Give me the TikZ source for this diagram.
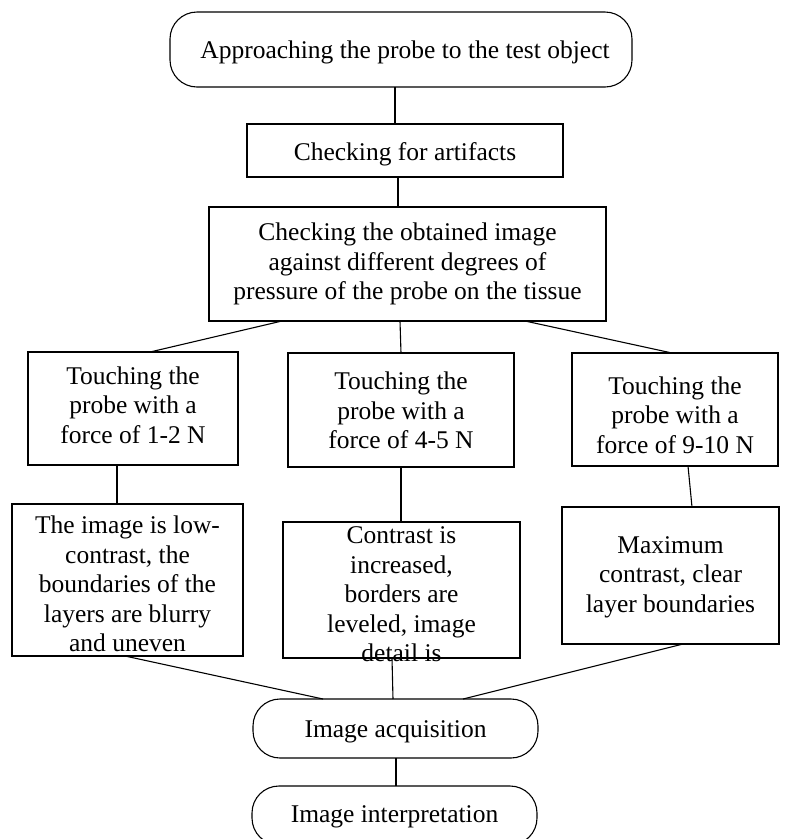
\documentclass[tikz,border=0pt]{standalone}
\usepackage{fontspec}
\setmainfont{Liberation Serif}
\begin{document}
\begin{tikzpicture}[x=1pt,y=-1pt,
  frame/.style={draw, line width=1.1pt, inner sep=0pt, outer sep=0pt},
  sq/.style={frame, rectangle},
  rnd/.style={frame, rectangle, rounded corners=27pt},
  txt/.style={align=center, inner sep=0pt, font=\fontsize{25.5}{29.5}\selectfont},
  link/.style={line width=1.1pt}]
\useasboundingbox (0,0) rectangle (786,839);
% boxes
\node[rnd, minimum width=462pt, minimum height=75pt] (top) at (401,49.5) {};
\node[sq,  minimum width=316pt, minimum height=53pt] (art) at (405,150.5) {};
\node[sq,  minimum width=397pt, minimum height=114pt] (chk) at (407.5,264) {};
\node[sq,  minimum width=210pt, minimum height=113pt] (t1) at (133,408.5) {};
\node[sq,  minimum width=226pt, minimum height=114pt] (t2) at (401,410) {};
\node[sq,  minimum width=206pt, minimum height=113pt] (t3) at (675,409.5) {};
\node[sq,  minimum width=231pt, minimum height=152pt] (r1) at (127.5,580) {};
\node[sq,  minimum width=237pt, minimum height=136pt] (r2) at (401.5,590) {};
\node[sq,  minimum width=217pt, minimum height=137pt] (r3) at (670.5,575.5) {};
\node[rnd, minimum width=285pt, minimum height=59pt] (acq) at (395.5,728.5) {};
\node[rnd, minimum width=285pt, minimum height=59pt] (int) at (394.5,815.5) {};
% texts
\node[txt] (ttop) at (405,52) {Approaching the probe to the test object};
\node[txt] (tart) at (405,154) {Checking for artifacts};
\node[txt] (tchk) at (407.5,264) {Checking the obtained image\\against different degrees of\\pressure of the probe on the tissue};
\node[txt] (tt1) at (133,405) {Touching the\\probe with a\\force of 1-2 N};
\node[txt] (tt2) at (401,410.5) {Touching the\\probe with a\\force of 4-5 N};
\node[txt] (tt3) at (675,415) {Touching the\\probe with a\\force of 9-10 N};
\node[txt] (tr1) at (127.5,584) {The image is low-\\contrast, the\\boundaries of the\\layers are blurry\\and uneven};
\node[txt] (tr2) at (401.5,594.5) {Contrast is\\increased,\\borders are\\leveled, image\\detail is};
\node[txt] (tr3) at (670.5,577) {Maximum\\contrast, clear\\layer boundaries};
\node[txt] (tacq) at (395.5,732) {Image acquisition};
\node[txt] (tint) at (394.5,817) {Image interpretation};
% connectors
\draw[link] ([xshift=-6pt]top.south) -- ([xshift=-10pt]art.north);
\draw[link] ([xshift=-7pt]art.south) -- ([xshift=-9.5pt]chk.north);
\draw[link] ([xshift=-125.5pt]chk.south) -- ([xshift=17pt]t1.north);
\draw[link] ([xshift=-7.5pt]chk.south) -- ([xshift=0pt]t2.north);
\draw[link] ([xshift=117.5pt]chk.south) -- ([xshift=-3pt]t3.north);
\draw[link] ([xshift=-16pt]t1.south) -- ([xshift=-10.5pt]r1.north);
\draw[link] ([xshift=0pt]t2.south) -- ([xshift=-0.5pt]r2.north);
\draw[link] ([xshift=13pt]t3.south) -- ([xshift=21.5pt]r3.north);
\draw[link] ([xshift=-2.5pt]r1.south) -- ([xshift=-72.5pt]acq.north);
\draw[link] ([xshift=-9.5pt]r2.south) -- ([xshift=-2.5pt]acq.north);
\draw[link] ([xshift=12.5pt]r3.south) -- ([xshift=67.5pt]acq.north);
\draw[link] ([xshift=0.5pt]acq.south) -- ([xshift=1.5pt]int.north);
\end{tikzpicture}
\end{document}
